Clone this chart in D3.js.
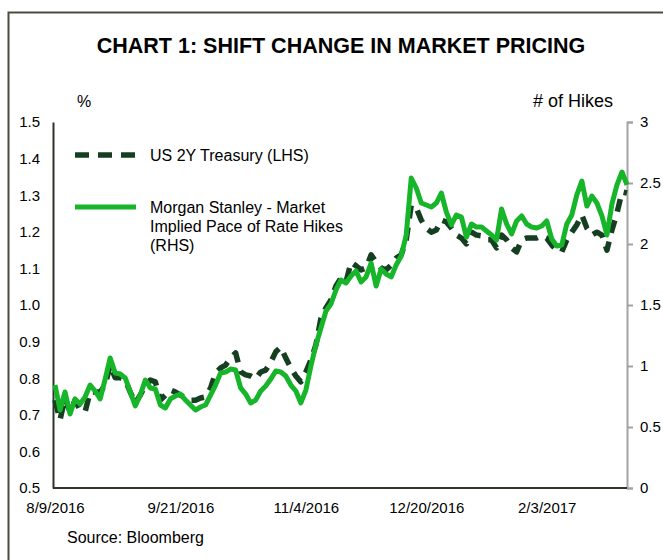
<!DOCTYPE html>
<html>
<head>
<meta charset="utf-8">
<script src="https://cdn.jsdelivr.net/npm/d3@7"></script>
<style>
  body { margin: 0; background: #fff; }
  svg { display: block; font-family: "Liberation Sans", Arial, sans-serif; }
</style>
</head>
<body>
<div id="chart"></div>
<script>
// ===========================
// Chart 1: Shift change in market pricing
// US 2Y Treasury (LHS, %) vs market implied pace of rate hikes (RHS)
// ===========================

// Tick labels on the date axis (index into the series below)
const dateLabels = ['8/9/2016', '9/21/2016', '11/4/2016', '12/20/2016', '2/3/2017'];
const dateLabelIndex = [0, 25, 50, 74, 98];

const leftTicks = [0.5, 0.6, 0.7, 0.8, 0.9, 1.0, 1.1, 1.2, 1.3, 1.4, 1.5];
const rightTicks = [0, 0.5, 1, 1.5, 2, 2.5, 3];

// US 2Y Treasury yield, % (roughly every 2nd trading day)
const treasury2y = [
    0.740, 0.686, 0.746, 0.708, 0.740, 0.713, 0.708, 0.762, 0.762, 0.762,
    0.781, 0.836, 0.801, 0.801, 0.795, 0.762, 0.732, 0.754, 0.781, 0.795,
    0.790, 0.740, 0.754, 0.768, 0.762, 0.754, 0.746, 0.740, 0.740, 0.746,
    0.749, 0.773, 0.814, 0.828, 0.836, 0.855, 0.869, 0.817, 0.809, 0.806,
    0.798, 0.817, 0.822, 0.844, 0.872, 0.885, 0.855, 0.828, 0.806, 0.790,
    0.817, 0.850, 0.891, 0.964, 0.992, 1.014, 1.052, 1.074, 1.063, 1.117,
    1.107, 1.096, 1.101, 1.137, 1.117, 1.101, 1.096, 1.109, 1.128, 1.137,
    1.178, 1.273, 1.265, 1.232, 1.210, 1.199, 1.205, 1.232, 1.227, 1.210,
    1.191, 1.183, 1.167, 1.199, 1.191, 1.189, 1.178, 1.178, 1.156, 1.191,
    1.178, 1.156, 1.145, 1.178, 1.183, 1.183, 1.183, 1.189, 1.183, 1.164,
    1.150, 1.145, 1.178, 1.199, 1.219, 1.246, 1.210, 1.191, 1.199, 1.191,
    1.150, 1.205, 1.251, 1.309, 1.306
];

// Morgan Stanley market implied pace of rate hikes, # of hikes
const impliedHikes = [
    0.844, 0.639, 0.787, 0.607, 0.730, 0.689, 0.746, 0.844, 0.795, 0.730,
    0.893, 1.066, 0.943, 0.934, 0.902, 0.787, 0.672, 0.762, 0.885, 0.820,
    0.811, 0.680, 0.656, 0.730, 0.754, 0.770, 0.721, 0.680, 0.639, 0.664,
    0.680, 0.762, 0.844, 0.943, 0.951, 0.975, 0.967, 0.820, 0.770, 0.697,
    0.721, 0.795, 0.836, 0.893, 0.959, 0.951, 0.918, 0.844, 0.795, 0.697,
    0.803, 1.000, 1.172, 1.311, 1.451, 1.508, 1.623, 1.705, 1.680, 1.738,
    1.779, 1.689, 1.730, 1.844, 1.656, 1.795, 1.754, 1.730, 1.828, 1.902,
    2.074, 2.541, 2.459, 2.336, 2.320, 2.303, 2.336, 2.418, 2.262, 2.156,
    2.238, 2.221, 2.057, 2.164, 2.139, 2.139, 2.107, 2.074, 2.033, 2.287,
    2.164, 2.082, 2.189, 2.230, 2.164, 2.139, 2.131, 2.148, 2.189, 2.041,
    1.984, 1.992, 2.164, 2.238, 2.402, 2.516, 2.311, 2.393, 2.336, 2.230,
    2.074, 2.328, 2.484, 2.590, 2.484
];

const colors = {
    treasury: '#163f22',
    hikes: '#17b52a',
    frame: '#464f3c',
    axis: '#2f3328',
    rightAxis: '#a3a3a3',
    text: '#000'
};

const width = 663, height = 560;
const plot = { left: 53, right: 627, top: 122, bottom: 488 };

const svg = d3.select('#chart')
    .append('svg')
    .attr('width', width)
    .attr('height', height);

// Outer frame (runs off the right and bottom edge of the picture)
svg.append('rect')
    .attr('x', 8.5)
    .attr('y', 12.5)
    .attr('width', 700)
    .attr('height', 600)
    .attr('fill', 'none')
    .attr('stroke', colors.frame)
    .attr('stroke-width', 2);

svg.append('text')
    .attr('x', 341)
    .attr('y', 53)
    .attr('text-anchor', 'middle')
    .style('font-size', '21.5px')
    .style('font-weight', 'bold')
    .text('CHART 1: SHIFT CHANGE IN MARKET PRICING');

// ── Scales ────────────────────────────────────────────────────────────────
const x = d3.scaleLinear()
    .domain([0, treasury2y.length - 1])
    .range([plot.left + 2, plot.right]);

const yLeft = d3.scaleLinear().domain([0.5, 1.5]).range([plot.bottom, plot.top]);
const yRight = d3.scaleLinear().domain([0, 3]).range([plot.bottom, plot.top]);

// ── Axes ──────────────────────────────────────────────────────────────────
const leftAxis = svg.append('g')
    .attr('transform', `translate(${plot.left},0)`)
    .call(d3.axisLeft(yLeft).tickValues(leftTicks).tickSize(0).tickPadding(13)
        .tickFormat(d3.format('.1f')));
leftAxis.select('.domain').attr('stroke', colors.axis).attr('stroke-width', 2);

const rightAxis = svg.append('g')
    .attr('transform', `translate(${plot.right},0)`)
    .call(d3.axisRight(yRight).tickValues(rightTicks).tickSizeOuter(0).tickSize(6).tickPadding(7)
        .tickFormat(d => String(d)));
rightAxis.selectAll('.domain, line').attr('stroke', colors.rightAxis).attr('stroke-width', 2);

const bottomAxis = svg.append('g')
    .attr('transform', `translate(0,${plot.bottom})`)
    .call(d3.axisBottom(x).tickValues(dateLabelIndex).tickSize(0).tickPadding(14)
        .tickFormat((d, i) => dateLabels[i]));
bottomAxis.select('.domain')
    .attr('d', `M${plot.left},0H${plot.right}`)
    .attr('stroke', colors.axis).attr('stroke-width', 2);

svg.selectAll('.tick text')
    .style('font-size', '15px')
    .style('font-family', '"Liberation Sans", Arial, sans-serif')
    .attr('fill', colors.text);

svg.append('text')
    .attr('x', 77).attr('y', 107)
    .style('font-size', '16px')
    .text('%');

svg.append('text')
    .attr('x', 613).attr('y', 107)
    .attr('text-anchor', 'end')
    .style('font-size', '18px')
    .text('# of Hikes');

// ── Lines ─────────────────────────────────────────────────────────────────
const treasuryLine = d3.line()
    .x((d, i) => x(i))
    .y(d => yLeft(d));

const hikesLine = d3.line()
    .x((d, i) => x(i))
    .y(d => yRight(d));

svg.append('path')
    .datum(treasury2y)
    .attr('fill', 'none')
    .attr('stroke', colors.treasury)
    .attr('stroke-width', 5.5)
    .attr('stroke-dasharray', '13 9')
    .attr('stroke-linejoin', 'round')
    .attr('d', treasuryLine);

svg.append('path')
    .datum(impliedHikes)
    .attr('fill', 'none')
    .attr('stroke', colors.hikes)
    .attr('stroke-width', 5)
    .attr('stroke-linejoin', 'round')
    .attr('d', hikesLine);

// ── Legend ────────────────────────────────────────────────────────────────
const legend = svg.append('g').style('font-size', '16px');

legend.append('line')
    .attr('x1', 75).attr('x2', 136).attr('y1', 155).attr('y2', 155)
    .attr('stroke', colors.treasury)
    .attr('stroke-width', 5.5)
    .attr('stroke-dasharray', '14 9');

legend.append('text')
    .attr('x', 150).attr('y', 161)
    .text('US 2Y Treasury (LHS)');

legend.append('line')
    .attr('x1', 75).attr('x2', 136).attr('y1', 207).attr('y2', 207)
    .attr('stroke', colors.hikes)
    .attr('stroke-width', 5);

const msText = legend.append('text')
    .attr('x', 150).attr('y', 213);
['Morgan Stanley - Market', 'Implied Pace of Rate Hikes', '(RHS)'].forEach((t, i) => {
    msText.append('tspan')
        .attr('x', 150)
        .attr('dy', i === 0 ? 0 : 19)
        .text(t);
});

svg.append('text')
    .attr('x', 67).attr('y', 543)
    .style('font-size', '16px')
    .text('Source: Bloomberg');
</script>
</body>
</html>
